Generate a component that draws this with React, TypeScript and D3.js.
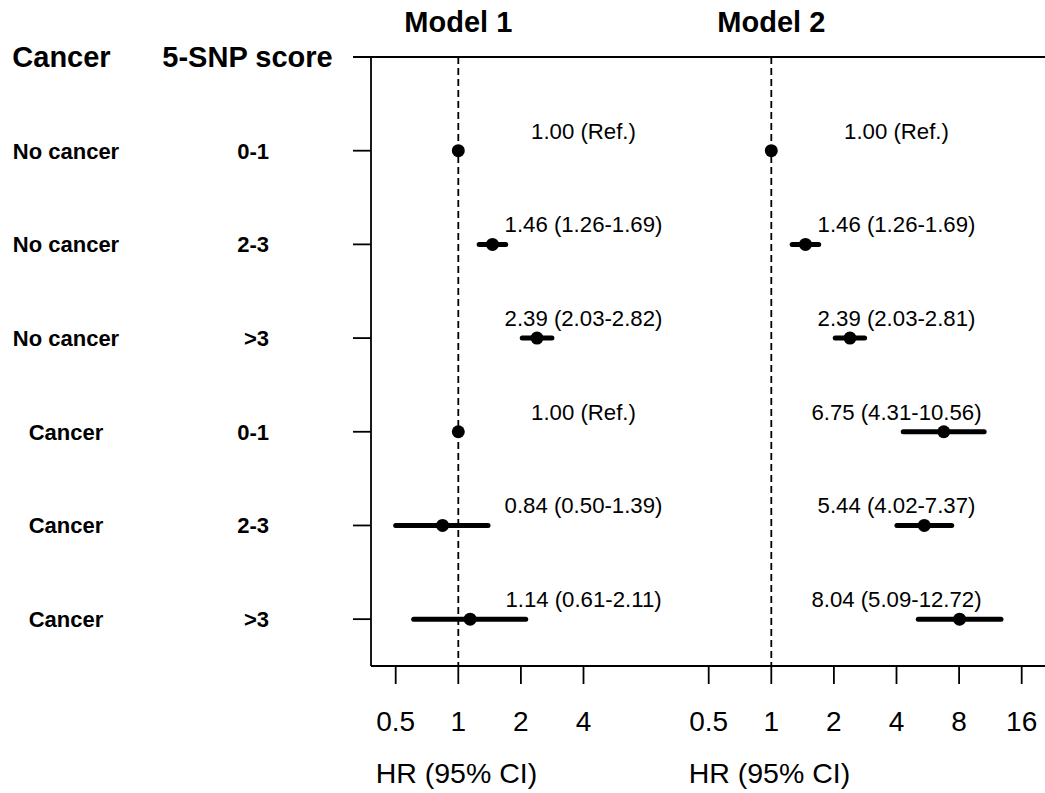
import * as d3 from 'd3';

const ROW_GROUPS = ['No cancer', 'No cancer', 'No cancer', 'Cancer', 'Cancer', 'Cancer'];
const ROW_SCORES = ['0-1', '2-3', '>3', '0-1', '2-3', '>3'];

// null lo/hi = reference category
const MODEL1_HR = [1.0, 1.46, 2.39, 1.0, 0.84, 1.14];
const MODEL1_LO = [null, 1.26, 2.03, null, 0.5, 0.61];
const MODEL1_HI = [null, 1.69, 2.82, null, 1.39, 2.11];

const MODEL2_HR = [1.0, 1.46, 2.39, 6.75, 5.44, 8.04];
const MODEL2_LO = [null, 1.26, 2.03, 4.31, 4.02, 5.09];
const MODEL2_HI = [null, 1.69, 2.81, 10.56, 7.37, 12.72];

const MODEL1_TICKS = [0.5, 1, 2, 4];
const MODEL2_TICKS = [0.5, 1, 2, 4, 8, 16];

const MODEL2_SHIFT = 32; // model 2 panel sits 5 doublings to the right

const W = 1045;
const H = 793;
const FONT = '"Liberation Sans", Arial, sans-serif';

const x = d3.scaleLog().base(2).domain([0.5, 4]).range([395.7, 583.5]);
const y = d3.scaleLinear().domain([-1, 5.5]).range([57, 666]);

const PLOT_LEFT = 371;
const PLOT_TOP = y(-1);
const PLOT_BOTTOM = y(5.5);

function label(hr: number, lo: number | null, hi: number | null) {
  if (lo == null || hi == null) return `${hr.toFixed(2)} (Ref.)`;
  return `${hr.toFixed(2)} (${lo.toFixed(2)}-${hi.toFixed(2)})`;
}

const models = [
  { title: 'Model 1', hr: MODEL1_HR, lo: MODEL1_LO, hi: MODEL1_HI, ticks: MODEL1_TICKS, mult: 1 },
  { title: 'Model 2', hr: MODEL2_HR, lo: MODEL2_LO, hi: MODEL2_HI, ticks: MODEL2_TICKS, mult: MODEL2_SHIFT },
];

export default function App() {
  return (
    <svg
      width={W}
      height={H}
      style={{ position: 'absolute', left: 0, top: 0, background: '#fff' }}
      fontFamily={FONT}
    >
      {/* frame */}
      <line x1={353} x2={W + 5} y1={PLOT_TOP} y2={PLOT_TOP} stroke="#000" strokeWidth={1.8} />
      <line x1={PLOT_LEFT} x2={PLOT_LEFT} y1={PLOT_TOP} y2={PLOT_BOTTOM} stroke="#000" strokeWidth={1.8} />
      <line x1={PLOT_LEFT} x2={W + 5} y1={PLOT_BOTTOM} y2={PLOT_BOTTOM} stroke="#000" strokeWidth={1.8} />

      {/* headers */}
      <text x={61.5} y={67} fontSize={29} fontWeight="bold" textAnchor="middle">Cancer</text>
      <text x={247.5} y={67} fontSize={29} fontWeight="bold" textAnchor="middle">5-SNP score</text>

      {/* row labels + left ticks */}
      {ROW_GROUPS.map((g, i) => (
        <g key={`row-${i}`}>
          <text x={66} y={y(i) + 8} fontSize={22} fontWeight="bold" textAnchor="middle">{g}</text>
          <text x={269} y={y(i) + 8} fontSize={22} fontWeight="bold" textAnchor="end">{ROW_SCORES[i]}</text>
          <line x1={353} x2={PLOT_LEFT} y1={y(i)} y2={y(i)} stroke="#000" strokeWidth={1.8} />
        </g>
      ))}

      {models.map((m) => {
        const px = (v: number) => x(v * m.mult);
        return (
          <g key={m.title}>
            <text x={px(1)} y={32} fontSize={29} fontWeight="bold" textAnchor="middle">{m.title}</text>
            <line
              x1={px(1)}
              x2={px(1)}
              y1={PLOT_TOP}
              y2={PLOT_BOTTOM}
              stroke="#000"
              strokeWidth={1.8}
              strokeDasharray="7,4"
            />
            {m.ticks.map((t) => (
              <g key={t}>
                <line x1={px(t)} x2={px(t)} y1={PLOT_BOTTOM} y2={PLOT_BOTTOM + 18} stroke="#000" strokeWidth={1.8} />
                <text x={px(t)} y={731} fontSize={28} textAnchor="middle">{t}</text>
              </g>
            ))}
            <text x={px(0.5) - 20} y={783} fontSize={28.5}>HR (95% CI)</text>
            {m.hr.map((hr, i) => {
              const lo = m.lo[i];
              const hi = m.hi[i];
              return (
                <g key={i}>
                  {lo != null && hi != null && (
                    <line
                      x1={px(lo)}
                      x2={px(hi)}
                      y1={y(i)}
                      y2={y(i)}
                      stroke="#000"
                      strokeWidth={5}
                      strokeLinecap="round"
                    />
                  )}
                  <circle cx={px(hr)} cy={y(i)} r={6.5} fill="#000" />
                  <text x={px(4)} y={y(i) - 12} fontSize={22.2} textAnchor="middle">
                    {label(hr, lo, hi)}
                  </text>
                </g>
              );
            })}
          </g>
        );
      })}
    </svg>
  );
}
